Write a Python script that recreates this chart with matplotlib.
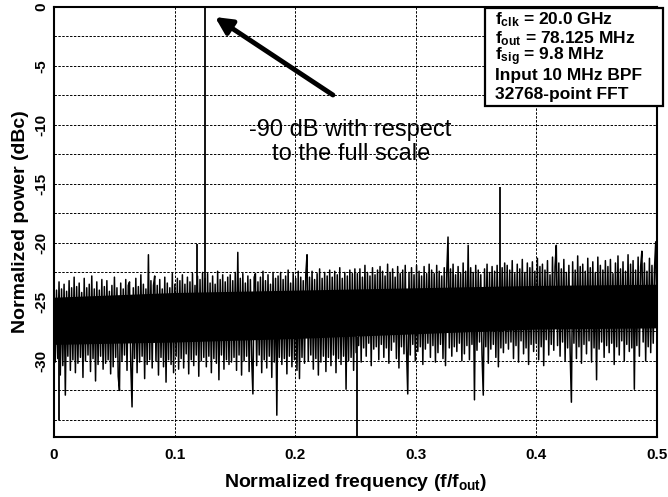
import numpy as np
import matplotlib
matplotlib.use("Agg")
import matplotlib.pyplot as plt
from matplotlib.patches import Rectangle

plt.rcParams['font.family'] = ['Liberation Sans', 'DejaVu Sans']
plt.rcParams['mathtext.fontset'] = 'custom'
plt.rcParams['mathtext.rm'] = 'Liberation Sans:bold'
plt.rcParams['mathtext.it'] = 'Liberation Sans:bold'
plt.rcParams['mathtext.bf'] = 'Liberation Sans:bold'

# ---- data ----
# dense noise-floor core (solid black region)
band_freq = [0.0, 0.1, 0.2, 0.3, 0.4, 0.5]
band_top = [-24.6, -24.2, -24.0, -23.8, -23.6, -23.5]
band_bot = [-28.6, -28.4, -28.1, -27.7, -27.3, -27.2]

# noise-floor trace (peaks / troughs), in frequency order
noise_db = [
    -23.6, -30.1, -24.0, -29.8, -23.3, -31.2, -23.9, -30.4, -23.5, -32.9, -24.1, -29.6, -23.2, -30.8, -23.8, -29.9, -22.9, -31.0, -23.7, -30.2,
    -23.4, -29.7, -24.2, -31.4, -23.0, -30.0, -23.8, -29.5, -23.5, -30.9, -22.8, -29.8, -23.9, -31.7, -23.3, -30.3, -24.0, -29.6, -23.1, -30.7,
    -23.7, -30.2, -23.2, -29.9, -24.1, -31.1, -23.6, -30.5, -22.9, -29.7, -23.8, -31.3, -32.5, -23.4, -30.0, -23.9, -29.5, -23.1, -30.8, -23.6,
    -23.3, -30.4, -33.9, -23.8, -29.8, -23.0, -31.0, -23.7, -30.1, -22.7, -29.6, -23.5, -31.5, -23.9, -30.3, -21.0, -29.9, -23.2, -30.6, -23.6,
    -22.8, -30.0, -23.6, -31.2, -23.1, -29.7, -23.9, -30.5, -22.9, -31.8, -23.4, -29.9, -23.8, -30.3, -22.6, -31.0, -23.5, -29.6, -23.0, -30.7,
    -23.2, -29.8, -22.7, -30.6, -23.5, -29.4, -22.9, -31.1, -23.3, -29.9, -22.6, -30.4, -23.6, -29.5, -22.8, -31.3, -23.1, -30.0, -22.5, -29.7,
    -23.0, -30.5, -22.6, -29.6, -23.4, -31.0, -22.8, -29.8, -23.5, -30.2, -22.4, -31.6, -23.1, -29.5, -22.7, -30.7, -23.3, -29.9, -22.9, -30.3,
    -22.7, -30.1, -23.2, -29.7, -22.5, -30.8, -20.8, -29.5, -23.0, -31.2, -22.6, -30.0, -23.4, -29.6, -22.8, -30.9, -23.1, -29.8, -32.8, -22.9,
    -22.6, -30.4, -23.3, -29.5, -22.9, -31.0, -22.4, -29.9, -23.2, -30.6, -22.7, -29.6, -23.5, -31.4, -22.5, -30.1, -23.0, -34.6, -22.8, -29.7,
    -22.5, -30.3, -23.1, -29.8, -22.8, -31.1, -22.3, -29.6, -23.4, -30.5, -22.6, -29.9, -23.0, -30.8, -22.4, -31.5, -22.9, -29.7, -23.2, -30.2,
    -22.7, -21.0, -30.0, -22.9, -29.5, -22.4, -30.7, -23.1, -29.8, -22.6, -31.2, -22.2, -30.1, -23.0, -29.6, -22.5, -30.9, -22.8, -29.7, -22.3,
    -30.4, -22.9, -29.5, -22.4, -31.0, -22.7, -29.8, -22.1, -30.3, -23.0, -29.6, -22.5, -32.4, -22.8, -30.0, -22.3, -29.7, -22.6, -30.8, -22.2,
    -29.3, -22.6, -28.7, -22.2, -30.1, -22.9, -28.9, -21.9, -29.6, -22.5, -28.5, -22.8, -30.4, -22.1, -29.0, -22.7, -28.8, -22.3, -29.9, -22.0,
    -28.6, -22.4, -29.7, -22.8, -28.9, -21.8, -30.2, -22.5, -29.1, -22.2, -28.4, -22.9, -29.8, -22.0, -30.6, -22.6, -28.8, -22.3, -29.4, -21.9,
    -28.9, -32.8, -22.5, -29.5, -22.1, -28.6, -22.7, -30.0, -21.9, -29.2, -22.4, -28.8, -22.8, -30.3, -22.0, -29.0, -22.6, -28.5, -21.8, -29.7,
    -22.3, -28.7, -22.6, -30.1, -21.9, -29.3, -22.4, -28.6, -22.8, -29.8, -22.1, -30.4, -22.5, -19.5, -28.9, -22.2, -29.6, -21.8, -28.8, -22.7,
    -29.2, -22.0, -28.5, -22.6, -30.0, -21.7, -29.4, -22.4, -28.7, -20.2, -29.9, -22.1, -28.6, -22.5, -33.3, -21.9, -29.1, -22.3, -28.4, -22.7,
    -29.5, -32.9, -22.2, -28.8, -21.8, -30.2, -22.5, -29.0, -22.0, -28.6, -22.4, -29.7, -21.9, -30.5, -22.6, -28.9, -22.1, -29.3, -21.7, -28.5,
    -21.9, -29.0, -22.3, -28.4, -21.5, -29.8, -22.6, -28.7, -21.8, -30.1, -22.2, -28.3, -21.4, -29.4, -22.5, -28.9, -21.7, -30.3, -22.1, -28.6,
    -21.6, -29.2, -22.4, -28.5, -21.3, -29.9, -22.0, -28.8, -21.8, -30.4, -22.3, -28.2, -21.5, -29.5, -22.7, -28.6, -21.2, -29.1, -22.0, -20.2,
    -28.7, -21.7, -29.6, -22.2, -28.4, -21.4, -30.0, -22.5, -28.9, -21.9, -29.3, -33.5, -21.6, -28.5, -22.3, -29.8, -21.1, -28.8, -22.0, -30.2,
    -21.8, -28.6, -22.4, -29.4, -21.3, -28.3, -22.1, -30.1, -21.6, -28.9, -22.5, -31.6, -21.2, -29.0, -21.9, -28.4, -22.3, -29.7, -21.5, -28.7,
    -22.0, -29.3, -21.4, -28.5, -22.6, -30.3, -21.7, -28.8, -21.1, -29.5, -22.2, -28.3, -21.6, -30.0, -22.4, -28.6, -21.0, -29.2, -21.8, -28.9,
    -21.5, -32.4, -22.3, -28.7, -21.2, -29.6, -22.0, -20.7, -28.4, -21.7, -30.0, -22.4, -28.8, -21.3, -29.3, -21.9, -28.5, -22.2, -19.9, -29.0,
]
freq = np.linspace(0.0, 0.5, len(noise_db))

# discrete spurs / tones
spike_freq = [0.0, 0.004, 0.1186, 0.1254, 0.251, 0.370]
spike_low = [-30.0, -35.0, -26.0, -27.0, -37.0, -27.0]
spike_high = [-12.8, -26.0, -20.1, 0.0, -28.0, -15.3]

x_ticks = [0, 0.1, 0.2, 0.3, 0.4, 0.5]
x_labels = ['0', '0.1', '0.2', '0.3', '0.4', '0.5']
y_ticks = [0, -5, -10, -15, -20, -25, -30]
y_grid = [-2.5, -5, -7.5, -10, -12.5, -15, -17.5, -20, -22.5, -25, -27.5, -30, -32.5, -35]

info_lines = [r'f$_{clk}$ = 20.0 GHz', r'f$_{out}$ = 78.125 MHz', r'f$_{sig}$ = 9.8 MHz',
              'Input 10 MHz BPF', '32768-point FFT']

# ---- figure ----
fig = plt.figure(figsize=(6.68, 4.97), dpi=100)
ax = fig.add_axes([54/668, 1-437/497, 603/668, 430/497])

ax.fill_between(band_freq, band_bot, band_top, color='black', lw=0, zorder=3)
ax.plot(freq, noise_db, color='black', lw=1.1, zorder=3)
ax.vlines(spike_freq, spike_low, spike_high, color='black', lw=1.3, zorder=3)

ax.set_xlim(0, 0.5)
ax.set_ylim(-36.45, 0)

for g in y_grid:
    ax.axhline(g, color='black', lw=0.7, ls=(0, (2.5, 1.5)), zorder=1)
for g in x_ticks[1:-1]:
    ax.axvline(g, color='black', lw=0.7, ls=(0, (2.5, 1.5)), zorder=1)

ax.set_xticks(x_ticks)
ax.set_xticklabels(x_labels, fontsize=11, fontweight='bold')
ax.set_yticks(y_ticks)
ax.set_yticklabels([str(v) for v in y_ticks], fontsize=11, fontweight='bold',
                   rotation=90, va='center')
ax.tick_params(axis='y', length=0, pad=4)
ax.tick_params(axis='x', length=0, pad=8)
for s in ax.spines.values():
    s.set_linewidth(1.5)

ax.set_xlabel(r'Normalized frequency (f/f$_{out}$)', fontsize=14, fontweight='bold', labelpad=7)
ax.set_ylabel('Normalized power (dBc)', fontsize=14, fontweight='bold', labelpad=4)

ax.annotate('', xy=(0.1335, -0.85), xytext=(0.2313, -7.46),
            arrowprops=dict(arrowstyle='-|>,head_length=1.0,head_width=0.5',
                            color='black', lw=3.5, shrinkA=0, shrinkB=0), zorder=5)
ax.text(0.246, -11.44, '-90 dB with respect\nto the full scale', fontsize=17,
        ha='center', va='center', linespacing=1.15, zorder=5)

box = Rectangle((0.7147, 0.7698), 1.0099-0.7147, 0.9977-0.7698, transform=ax.transAxes,
                fc='white', ec='black', lw=1.6, clip_on=False, zorder=6)
ax.add_patch(box)
ys = [20, 38.5, 57, 75.5, 94]
for line, yp in zip(info_lines, ys):
    ax.text((495-54)/603, (437-yp)/430, line, transform=ax.transAxes, fontsize=12.5,
            fontweight='bold', va='center', ha='left', zorder=7)

fig.savefig('out.png', dpi=100)
